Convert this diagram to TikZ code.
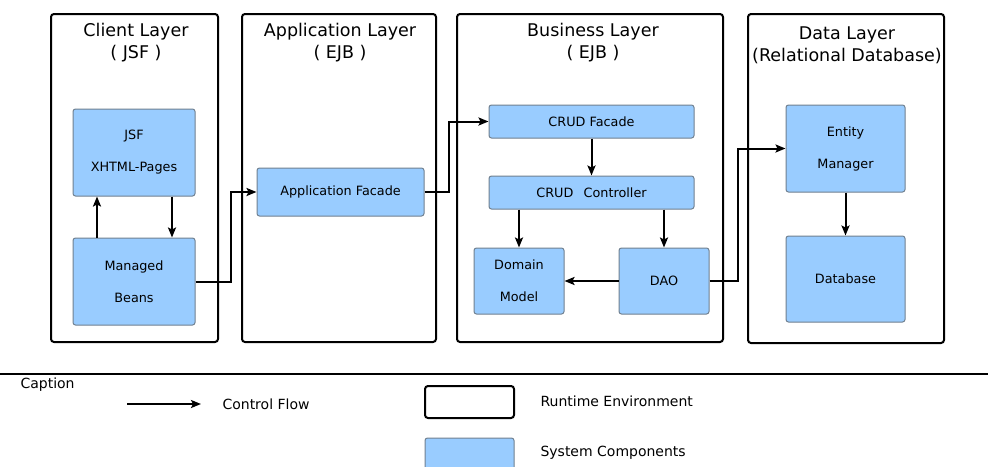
\documentclass[tikz,border=0pt]{standalone}
\usepackage{fontspec}
\setmainfont{DejaVu Sans}
\usetikzlibrary{arrows.meta}
\definecolor{compblue}{RGB}{153,204,255}
\definecolor{compline}{RGB}{112,128,144}
\tikzset{
  layer/.style={draw=black, line width=2pt, rounded corners=3pt, fill=white},
  comp/.style={draw=compline, line width=1pt, rounded corners=2.5pt, fill=compblue,
    font=\fontsize{12.8}{32}\selectfont, align=center, inner sep=0pt},
  ltitle/.style={font=\fontsize{17.5}{22}\selectfont, align=center},
  flow/.style={line width=2pt, -{Stealth[length=10pt,width=8pt,inset=2pt]}},
  legtext/.style={font=\fontsize{14}{16}\selectfont, anchor=west}
}
\begin{document}
\begin{tikzpicture}[x=1pt, y=-1pt]
\useasboundingbox (0,0) rectangle (988,466);
% layers
\node[layer, minimum width=167, minimum height=328] (client) at (134.5,178) {};
  \node[layer, minimum width=194, minimum height=328] (app) at (339,178) {};
  \node[layer, minimum width=266, minimum height=328] (busi) at (590,178) {};
    \node[layer, minimum width=196, minimum height=329] (data) at (846,178.5) {};
\node[ltitle] (clientT) at (136,43) {Client Layer\\( JSF )};
\node[ltitle] (appT) at (340,43) {Application Layer\\( EJB )};
\node[ltitle] (busiT) at (593,43) {Business Layer\\( EJB )};
\node[ltitle] (dataT) at (847,45) {Data Layer\\(Relational Database)};

% components
\node[comp, minimum width=122, minimum height=87] (jsf) at (134,152.5) {JSF\\XHTML-Pages};
  \node[comp, minimum width=122, minimum height=87] (beans) at (134,281.5) {Managed\\Beans};
  \node[comp, minimum width=167, minimum height=48] (appf) at (340.5,192) {Application Facade};
  \node[comp, minimum width=205, minimum height=33] (crudf) at (591.5,121.5) {CRUD Facade};
  \node[comp, minimum width=205, minimum height=33] (ctrl) at (591.5,192.5) {CRUD\hspace{0.8em}Controller};
    \node[comp, minimum width=90, minimum height=66] (domain) at (519,281) {Domain\\Model};
    \node[comp, minimum width=90, minimum height=66] (dao) at (664,281) {DAO};
  \node[comp, minimum width=119, minimum height=87] (entity) at (845.5,148.5) {Entity\\Manager};
  \node[comp, minimum width=119, minimum height=86] (db) at (845.5,279) {Database};

% control flow
\draw[flow] ([xshift=-37pt]beans.north) -- ([xshift=-37pt]jsf.south);
\draw[flow] ([xshift=38pt]jsf.south) -- ([xshift=38pt]beans.north);
\draw[flow] (beans.east) -- ++(35,0) |- (appf.west);
\draw[flow] (appf.east) -- ++(24,0) |- (crudf.west);
\draw[flow] (crudf) -- (ctrl);
\draw[flow] (ctrl.south -| domain.north) -- (domain.north);
\draw[flow] (ctrl.south -| dao.north) -- (dao.north);
\draw[flow] (dao.west) -- (domain.east);
\draw[flow] (dao.east) -- ++(28,0) |- (entity.west);
\draw[flow] (entity) -- (db);

% caption
\coordinate (capL) at (0,374);
\coordinate (capR) at (988,374);
\draw[line width=2pt] (capL) -- (capR);
\node[legtext] (capT) at (17,385) {Caption};
\coordinate (cfA) at (127,404);
\coordinate (cfB) at (201,404);
\draw[flow] (cfA) -- (cfB);
\node[legtext] (cfT) at (219,404) {Control Flow};
\node[layer, minimum width=89, minimum height=32] (rtBox) at (469.5,402) {};
\node[legtext] (rtT) at (537,401) {Runtime Environment};
\node[comp, minimum width=89, minimum height=40] (scBox) at (469.5,458) {};
\node[legtext] (scT) at (537,453) {System Components};
\end{tikzpicture}
\end{document}
